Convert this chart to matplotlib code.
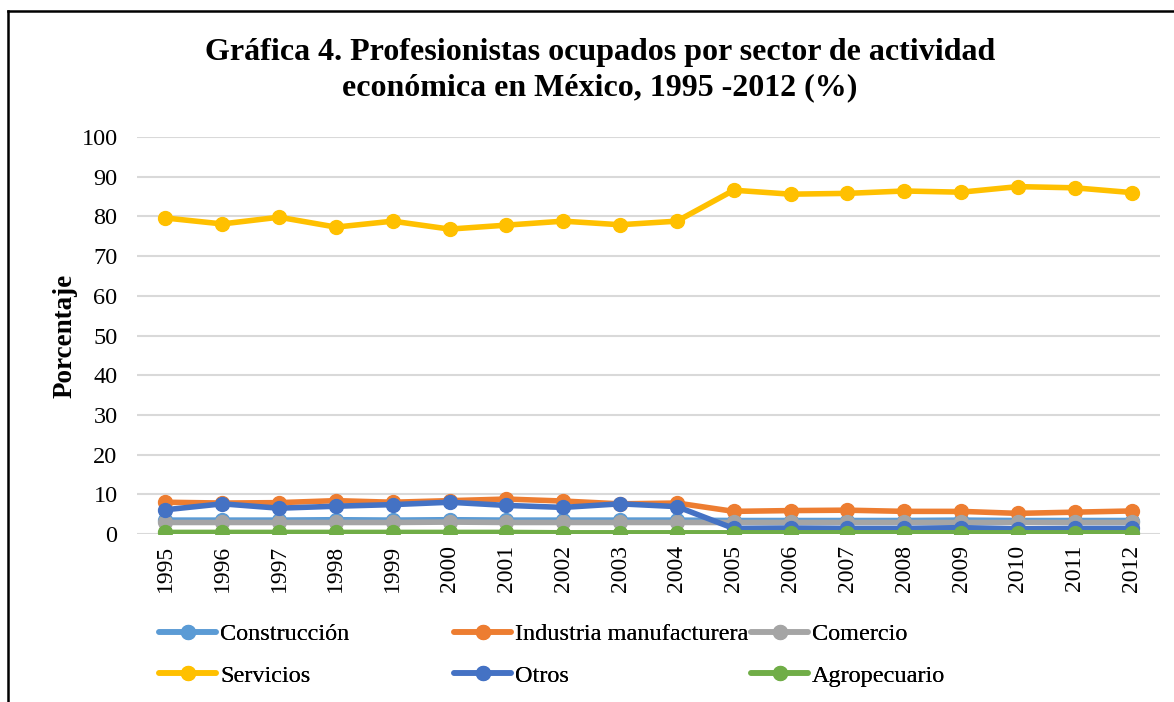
import matplotlib
matplotlib.use("Agg")
import matplotlib.pyplot as plt
from matplotlib.lines import Line2D

years = [str(y) for y in range(1995, 2013)]
construccion = [3.5, 3.5, 3.5, 3.6, 3.5, 3.6, 3.5, 3.5, 3.5, 3.5, 3.4, 3.4, 3.4, 3.4, 3.5, 3.4, 3.4, 3.4]
industria = [8.0, 7.8, 7.9, 8.4, 8.0, 8.4, 8.8, 8.3, 7.6, 7.8, 5.7, 5.9, 6.0, 5.7, 5.7, 5.2, 5.5, 5.8]
comercio = [2.9, 2.9, 2.9, 2.9, 2.9, 3.0, 2.9, 2.9, 2.9, 2.9, 2.9, 2.9, 2.9, 2.9, 2.9, 2.9, 2.9, 2.9]
servicios = [79.6, 78.1, 79.8, 77.3, 78.8, 76.8, 77.8, 78.8, 77.9, 78.8, 86.6, 85.6, 85.8, 86.4, 86.1, 87.5, 87.2, 86.0]
otros = [6.1, 7.6, 6.5, 7.0, 7.4, 8.0, 7.2, 6.7, 7.6, 6.9, 1.4, 1.5, 1.4, 1.4, 1.6, 1.3, 1.4, 1.4]
agropecuario = [0.4, 0.4, 0.4, 0.4, 0.4, 0.4, 0.4, 0.3, 0.3, 0.3, 0.3, 0.3, 0.3, 0.3, 0.3, 0.3, 0.3, 0.3]

names = ["Construcción", "Industria manufacturera", "Comercio", "Servicios", "Otros", "Agropecuario"]
colors = ["#5B9BD5", "#ED7D31", "#A5A5A5", "#FFC000", "#4472C4", "#70AD47"]
series = [construccion, industria, comercio, servicios, otros, agropecuario]
yticks = list(range(0, 101, 10))

plt.rcParams['font.family'] = ['Liberation Serif', 'DejaVu Serif']

fig = plt.figure(figsize=(11.74, 7.02), dpi=100)
ax = fig.add_axes([137/1174, (702-534)/702, (1160-137)/1174, (534-137)/702])

x = list(range(len(years)))
handles = []
for vals, name, col in zip(series, names, colors):
    h, = ax.plot(x, vals, color=col, lw=4.0, marker='o', ms=10, label=name,
                 solid_capstyle='round')
    handles.append(h)

ax.set_xlim(-0.5, len(years) - 0.5)
ax.set_ylim(0, 100)
ax.set_yticks(yticks)
ax.set_yticklabels([str(v) for v in yticks], fontsize=17.5)
ax.set_xticks(x)
ax.set_xticklabels(years, rotation=90, fontsize=17)
ax.tick_params(axis='both', length=0)
ax.tick_params(axis='y', pad=14)
ax.tick_params(axis='x', pad=8)
ax.grid(axis='y', color='#D9D9D9', lw=1.5)
ax.set_axisbelow(True)
for s in ax.spines.values():
    s.set_visible(False)

ax.set_ylabel("Porcentaje", fontsize=19.5, fontweight='bold', labelpad=3)

fig.text(600/1174, 1 - 70/702,
         "Gráfica 4. Profesionistas ocupados por sector de actividad\neconómica en México, 1995 -2012 (%)",
         ha='center', va='center', fontsize=23, fontweight='bold', linespacing=1.28)

# legend in three columns
col_x = [160/1174, 455/1174, 752/1174]
for i, cx in enumerate(col_x):
    hs = [handles[i], handles[i + 3]]
    leg = fig.legend(handles=hs, labels=[h.get_label() for h in hs],
                     loc='upper left', bbox_to_anchor=(cx - 8/1174, 1 - 616/702),
                     frameon=False, fontsize=17.5, handlelength=2.35, handletextpad=0.15,
                     labelspacing=0.8, borderaxespad=0, borderpad=0.3)
    fig.add_artist(leg)

# outer frame (top and left edges)
fig.add_artist(Line2D([8/1174, 1.0], [1 - 11/702, 1 - 11/702], color='black', lw=1.8,
                      transform=fig.transFigure))
fig.add_artist(Line2D([8/1174, 8/1174], [0, 1 - 11/702], color='black', lw=1.8,
                      transform=fig.transFigure))

fig.savefig("out.png", dpi=100)
